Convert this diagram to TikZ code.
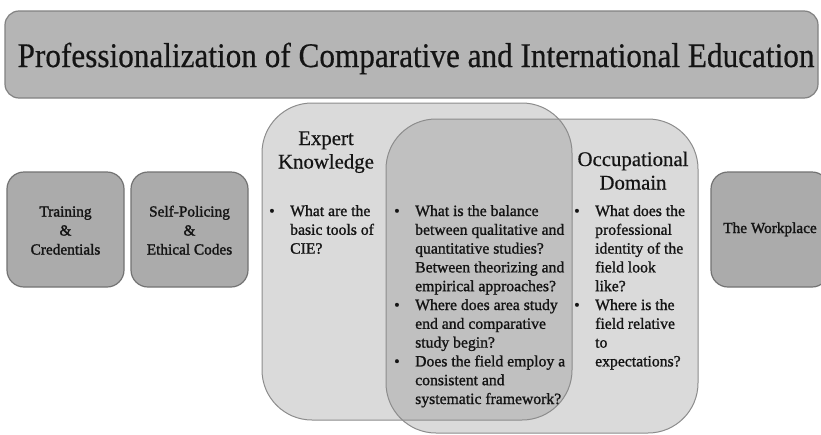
\documentclass[tikz,border=0pt]{standalone}
\usepackage{fontspec}
\setmainfont{Liberation Serif}
\newfontfamily\heavyA[FakeBold=1.6]{Liberation Serif}
\newfontfamily\heavyB[FakeBold=1.2]{Liberation Serif}
\newfontfamily\heavyC[FakeBold=0.5]{Liberation Serif}
\definecolor{titlefill}{RGB}{181,181,181}
\definecolor{titleline}{RGB}{130,130,130}
\definecolor{sidefill}{RGB}{171,171,171}
\definecolor{sideline}{RGB}{115,115,115}
\definecolor{bigfill}{RGB}{218,218,218}
\definecolor{overfill}{RGB}{192,192,192}
\definecolor{bigline}{RGB}{140,140,140}
\definecolor{ink}{RGB}{20,20,20}
\newcommand\bodyfont{\heavyB\fontsize{15.7}{18.8}\selectfont}
\newcommand\sidefont{\heavyA\fontsize{15.3}{19}\selectfont}
\newcommand\headfont{\heavyC\fontsize{20.8}{23.5}\selectfont}
\begin{document}
\begin{tikzpicture}[x=1pt,y=-1pt,
  titlebox/.style={draw=titleline,fill=titlefill,line width=1.2pt,rounded corners=14pt},
  sidebox/.style={draw=sideline,fill=sidefill,line width=1.2pt,rounded corners=17pt},
  bigbox/.style={fill=bigfill,rounded corners=50pt},
  bigedge/.style={draw=bigline,line width=1pt,rounded corners=50pt},
  txt/.style={inner sep=0pt,text=ink}]
\useasboundingbox (0,0) rectangle (821,434);
\fill[white] (0,0) rectangle (821,434);
% title
\draw[titlebox] (5,11) rectangle (818,98);
\node[txt,anchor=base] (title) at (416,67)
  {\heavyC\fontsize{34.5}{40}\selectfont\scalebox{0.905}[1]{Professionalization of Comparative and International Education}};
% side boxes
\draw[sidebox] (7,172) rectangle (124,287);
\draw[sidebox] (131,172) rectangle (248,287);
\draw[sidebox] (711,172) rectangle (829,287);
\node[txt,anchor=base] (train) at (65.5,216.5)
  {\sidefont\begin{tabular}[t]{@{}c@{}}Training\\ \&\\ Credentials\end{tabular}};
\node[txt,anchor=base] (police) at (189.5,216.5)
  {\sidefont\begin{tabular}[t]{@{}c@{}}Self-Policing\\ \&\\ Ethical Codes\end{tabular}};
\node[txt,anchor=base] (work) at (770,233) {\sidefont The Workplace};
% big overlapping boxes
\fill[bigbox] (262,103) rectangle (572,420);
\fill[bigbox] (386,119) rectangle (698,433);
\begin{scope}
  \clip[rounded corners=50pt] (262,103) rectangle (572,420);
  \fill[overfill,rounded corners=50pt] (386,119) rectangle (698,433);
\end{scope}
\draw[bigedge] (262,103) rectangle (572,420);
\draw[bigedge] (386,119) rectangle (698,433);
% headings
\node[txt,anchor=base] (experthead) at (326,145)
  {\headfont\begin{tabular}[t]{@{}c@{}}Expert\\ Knowledge\end{tabular}};
\node[txt,anchor=base] (occhead) at (633,166)
  {\headfont\begin{tabular}[t]{@{}c@{}}Occupational\\ Domain\end{tabular}};
% bullets
\node[txt,anchor=base west] (expertlist) at (269,216)
  {\bodyfont\begin{tabular}[t]{@{}p{21pt}@{}l@{}}
  •&What are the\\ &basic tools of\\ &CIE?\end{tabular}};
\node[txt,anchor=base west] (sharedlist) at (394,216)
  {\bodyfont\begin{tabular}[t]{@{}p{21pt}@{}l@{}}
  •&What is the balance\\ &between qualitative and\\ &quantitative studies?\\
   &Between theorizing and\\ &empirical approaches?\\
  •&Where does area study\\ &end and comparative\\ &study begin?\\
  •&Does the field employ a\\ &consistent and\\ &systematic framework?\end{tabular}};
\node[txt,anchor=base west] (occlist) at (574,216)
  {\bodyfont\begin{tabular}[t]{@{}p{21pt}@{}l@{}}
  •&What does the\\ &professional\\ &identity of the\\ &field look\\ &like?\\
  •&Where is the\\ &field relative\\ &to\\ &expectations?\end{tabular}};
\end{tikzpicture}
\end{document}
